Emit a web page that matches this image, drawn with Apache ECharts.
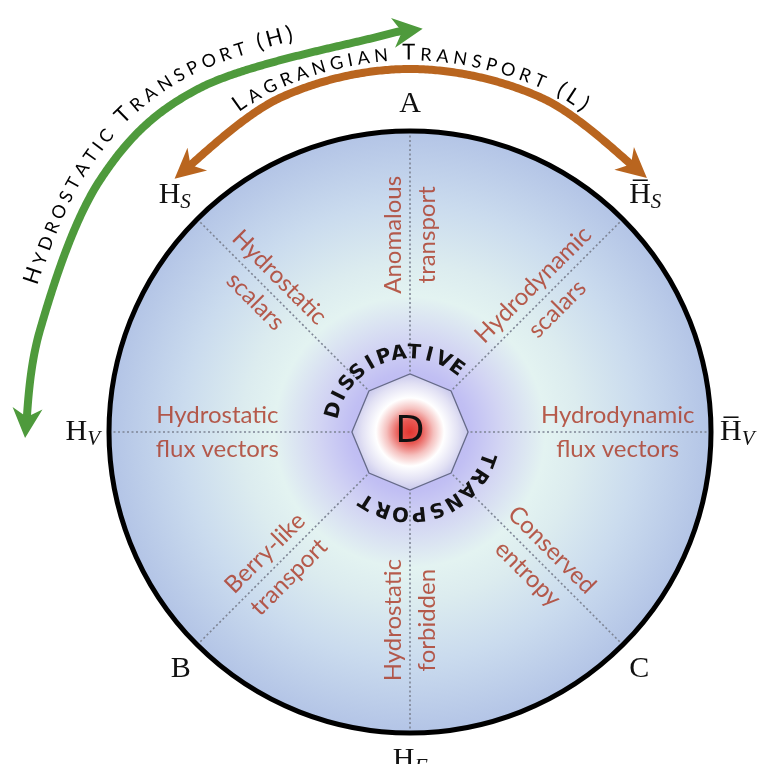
<!DOCTYPE html>
<html><head><meta charset="utf-8">
<script src="https://cdn.jsdelivr.net/npm/echarts@6/dist/echarts.min.js"></script>
<style>html,body{margin:0;padding:0;background:#fff;}#chart{width:768px;height:764px;}</style>
</head><body><div id="chart"></div>
<script>
// ---------------- data ----------------
const spokeAngles = [0, 45, 90, 135, 180, 225, 270, 315];
const spokeMain   = ['H', 'H', 'A', 'H', 'H', 'B', 'H', 'C'];
const spokeBar    = [true, true, false, false, false, false, false, false];
const spokeSub    = ['V', 'S', '', 'S', 'V', '', 'F', ''];

const regionNames  = ['Hydrodynamic\nflux vectors', 'Hydrodynamic\nscalars', 'Anomalous\ntransport',
                      'Hydrostatic\nscalars', 'Hydrostatic\nflux vectors', 'Berry-like\ntransport',
                      'Hydrostatic\nforbidden', 'Conserved\nentropy'];
const regionAngles = [0, 45, 90, 135, 180, 225, 270, 315];
const regionRadii  = [0.69, 0.635, 0.655, 0.67, 0.64, 0.625, 0.625, 0.61];

const centerLetter  = 'D';
const octagonRadius = 0.193;
const ringTexts  = ['DISSIPATIVE', 'TRANSPORT'];
const ringFrom   = [164, -20];
const ringTo     = [54, -122];
const ringRadius = [0.262, 0.27];

const arrowTexts = ['HYDROSTATIC TRANSPORT (H)', 'LAGRANGIAN TRANSPORT (L)'];
const greenPath  = [[1.279, 180.9], [1.275, 164.6], [1.327, 140.9], [1.339, 121.4], [1.319, 94.3], [1.340, 88.2]];
const orangePath = [[1.149, 132.9], [1.191, 111.3], [1.206, 90.0], [1.193, 68.4], [1.154, 47.0]];
const arrowTextSpan = [[0.235, 0.80], [0.17, 0.83]];

// ---------------- styles ----------------
const arrowColors = ['#4e9a3c', '#b9651f'];
const arrowTextOffset = [12, 5.5];
const redText = '#ab3622';
const serif = 'Liberation Serif';

const measureCtx = document.createElement('canvas').getContext('2d');

function catmull(pts, samples) {
  const out = [], n = pts.length;
  for (let i = 0; i < n - 1; i++) {
    const p0 = pts[Math.max(i - 1, 0)], p1 = pts[i], p2 = pts[i + 1], p3 = pts[Math.min(i + 2, n - 1)];
    for (let k = 0; k < samples; k++) {
      const t = k / samples, t2 = t * t, t3 = t2 * t;
      const f = j => 0.5 * ((2 * p1[j]) + (-p0[j] + p2[j]) * t + (2 * p0[j] - 5 * p1[j] + 4 * p2[j] - p3[j]) * t2 + (-p0[j] + 3 * p1[j] - 3 * p2[j] + p3[j]) * t3);
      out.push([f(0), f(1)]);
    }
  }
  out.push(pts[n - 1].slice());
  return out;
}
function sampler(samp) {
  const cum = [0];
  for (let i = 1; i < samp.length; i++) {
    cum.push(cum[i - 1] + Math.hypot(samp[i][0] - samp[i - 1][0], samp[i][1] - samp[i - 1][1]));
  }
  const L = cum[cum.length - 1];
  function pt(s) {
    s = Math.max(0, Math.min(L, s));
    let i = 1;
    while (i < cum.length - 1 && cum[i] < s) i++;
    const seg = cum[i] - cum[i - 1] || 1;
    const u = (s - cum[i - 1]) / seg;
    return [samp[i - 1][0] + (samp[i][0] - samp[i - 1][0]) * u, samp[i - 1][1] + (samp[i][1] - samp[i - 1][1]) * u];
  }
  function tan(s) {
    const a = pt(s - 3), b = pt(s + 3);
    const d = Math.hypot(b[0] - a[0], b[1] - a[1]) || 1;
    return [(b[0] - a[0]) / d, (b[1] - a[1]) / d];
  }
  return { L, pt, tan };
}

function arrowHead(S, atStart, color) {
  const hl = 30, hw = 15, notch = 9;
  const tip = atStart ? S.pt(0) : S.pt(S.L);
  const base = atStart ? S.pt(hl) : S.pt(S.L - hl);
  let dx = tip[0] - base[0], dy = tip[1] - base[1];
  const d = Math.hypot(dx, dy); dx /= d; dy /= d;
  const nx = dy, ny = -dx;
  return {
    type: 'polygon',
    shape: { points: [tip, [base[0] + nx * hw, base[1] + ny * hw], [base[0] + dx * notch, base[1] + dy * notch], [base[0] - nx * hw, base[1] - ny * hw]] },
    style: { fill: color }
  };
}

function arcLetters(S, text, s0, s1, offset) {
  const big = 22, small = 18;
  const items = [];
  let prev = ' ';
  for (const ch of text) {
    const isBig = ch !== ' ' && (prev === ' ' || prev === '(' || ch === '(' || ch === ')');
    const size = isBig ? big : small;
    measureCtx.font = size + 'px Lato';
    items.push({ ch, size, w: measureCtx.measureText(ch).width });
    prev = ch;
  }
  const W = items.reduce((a, b) => a + b.w, 0);
  const gap = ((s1 - s0) * S.L - W) / (items.length - 1);
  const out = [];
  let s = s0 * S.L;
  items.forEach(it => {
    const c = s + it.w / 2;
    if (it.ch !== ' ') {
      const p = S.pt(c), t = S.tan(c);
      const nx = t[1], ny = -t[0];
      out.push({
        type: 'text',
        x: p[0] + nx * offset, y: p[1] + ny * offset,
        rotation: -Math.atan2(t[1], t[0]),
        style: { text: it.ch, font: it.size + 'px Lato', fill: '#000', align: 'center', verticalAlign: 'bottom' }
      });
    }
    s += it.w + gap;
  });
  return out;
}

const labelRotate = a => { let m = a % 180; return m > 90 ? m - 180 : m; };

const chart = echarts.init(document.getElementById('chart'));
const option = {
  animation: false,
  backgroundColor: '#ffffff',
  polar: { center: [410, 432], radius: 301 },
  radiusAxis: {
    type: 'value', min: 0, max: 1,
    axisLine: { show: false }, axisTick: { show: false }, axisLabel: { show: false }, splitLine: { show: false }
  },
  angleAxis: {
    type: 'value', min: 0, max: 360, interval: 45, startAngle: 0, clockwise: false, z: 3,
    axisLine: { show: true, lineStyle: { color: '#000', width: 5 } },
    axisTick: { show: false },
    splitLine: { show: true, lineStyle: { color: '#7d8494', width: 1.6, type: [2, 2.5] } },
    axisLabel: {
      show: true, margin: 9,
      formatter: v => {
        const i = spokeAngles.indexOf(v);
        if (i < 0 || v === 360) return '';
        const main = spokeBar[i] ? '{ob|' + spokeMain[i] + '\u0305}' : '{m|' + spokeMain[i] + '}';
        return main + (spokeSub[i] ? '{s|' + spokeSub[i] + '}' : '');
      },
      rich: {
        m:  { fontFamily: serif, fontSize: 30, color: '#111', lineHeight: 36 },
        ob: { fontFamily: serif, fontSize: 30, color: '#111', lineHeight: 36 },
        s:  { fontFamily: serif, fontStyle: 'italic', fontSize: 21, color: '#111', lineHeight: 36, verticalAlign: 'bottom' }
      }
    }
  },
  series: [
    { // background disk
      type: 'custom', coordinateSystem: 'polar', z: -5, silent: true,
      data: [[0, 0]],
      renderItem: (params, api) => {
        const c = api.coord([0, 0]), e = api.coord([1, 0]);
        return {
          type: 'circle', shape: { cx: c[0], cy: c[1], r: e[0] - c[0] },
          style: { fill: { type: 'radial', x: 0.5, y: 0.5, r: 0.5, colorStops: [
            { offset: 0, color: '#b3aaef' }, { offset: 0.2, color: '#c1bff3' }, { offset: 0.3, color: '#d2d4f3' },
            { offset: 0.45, color: '#e3f3f1' }, { offset: 0.56, color: '#dcecef' }, { offset: 0.76, color: '#cadbee' },
            { offset: 1, color: '#b3c4e6' } ] } }
        };
      }
    },
    { // region labels
      type: 'scatter', coordinateSystem: 'polar', symbolSize: 0, silent: true, z: 4,
      data: regionNames.map((n, i) => ({ name: n, value: [regionRadii[i], regionAngles[i]], label: { rotate: labelRotate(regionAngles[i]) } })),
      label: { show: true, position: 'inside', formatter: p => p.name, fontFamily: 'Lato', fontSize: 24, color: redText, lineHeight: 34, align: 'center', verticalAlign: 'middle' }
    },
    { // octagon + D
      type: 'custom', coordinateSystem: 'polar', z: 6, silent: true,
      data: [[0, 0]],
      renderItem: (params, api) => {
        const pts = spokeAngles.map(a => api.coord([octagonRadius, a]));
        const c = api.coord([0, 0]);
        return { type: 'group', children: [
          { type: 'polygon', shape: { points: pts },
            style: { stroke: '#666b88', lineWidth: 1.3, fill: { type: 'radial', x: 0.5, y: 0.5, r: 0.5, colorStops: [
              { offset: 0, color: '#e2352f' }, { offset: 0.2, color: '#e85a55' }, { offset: 0.4, color: '#f5c0be' },
              { offset: 0.58, color: '#ffffff' }, { offset: 0.82, color: '#e2e1f4' }, { offset: 1, color: '#c6c5eb' } ] } } },
          { type: 'text', x: c[0], y: c[1], style: { text: centerLetter, font: '38px "DejaVu Sans"', fill: '#111', align: 'center', verticalAlign: 'middle' } }
        ] };
      }
    },
    { // ring texts
      type: 'custom', coordinateSystem: 'polar', z: 7, silent: true,
      data: ringTexts.map((t, i) => [ringRadius[i], ringFrom[i]]),
      renderItem: (params, api) => {
        const i = params.dataIndex, t = ringTexts[i], n = t.length;
        const kids = [];
        for (let k = 0; k < n; k++) {
          const a = ringFrom[i] + (ringTo[i] - ringFrom[i]) * k / (n - 1);
          const p = api.coord([ringRadius[i], a]);
          kids.push({ type: 'text', x: p[0], y: p[1], rotation: (a - 90) * Math.PI / 180,
            style: { text: t[k], font: 'bold 20px "DejaVu Sans"', fill: '#111', align: 'center', verticalAlign: 'middle' } });
        }
        return { type: 'group', children: kids };
      }
    },
    { // arrows
      type: 'custom', coordinateSystem: 'polar', z: 8, silent: true,
      data: [[0, 0], [0, 0]],
      renderItem: (params, api) => {
        const i = params.dataIndex;
        const path = (i === 0 ? greenPath : orangePath).map(p => api.coord(p));
        const S = sampler(catmull(path, 40));
        const col = arrowColors[i];
        const shaft = [];
        for (let s = 13; s <= S.L - 13; s += 2) shaft.push(S.pt(s));
        const kids = [
          { type: 'polyline', shape: { points: shaft }, style: { stroke: col, lineWidth: 8, fill: null } },
          arrowHead(S, true, col), arrowHead(S, false, col)
        ].concat(arcLetters(S, arrowTexts[i], arrowTextSpan[i][0], arrowTextSpan[i][1], arrowTextOffset[i]));
        return { type: 'group', children: kids };
      }
    }
  ]
};
chart.setOption(option);
</script></body></html>
